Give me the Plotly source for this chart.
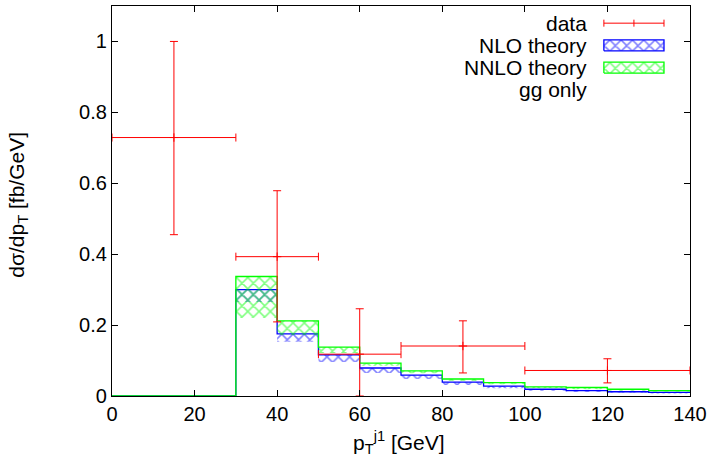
import plotly.graph_objects as go

# ---------------- data ----------------
edges = [0, 30, 40, 50, 60, 70, 80, 90, 100, 110, 120, 130, 140]
nlo_lo = [0, 0.265, 0.153, 0.096, 0.065, 0.048, 0.031, 0.022, 0.015, 0.011, 0.009, 0.007]
nlo_hi = [0, 0.300, 0.175, 0.116, 0.079, 0.059, 0.039, 0.028, 0.019, 0.015, 0.012, 0.010]
nnlo_lo = [0, 0.220, 0.172, 0.121, 0.085, 0.064, 0.042, 0.033, 0.022, 0.019, 0.015, 0.012]
nnlo_hi = [0, 0.337, 0.212, 0.138, 0.093, 0.071, 0.048, 0.038, 0.026, 0.024, 0.019, 0.015]

data_x = [15, 40, 60, 85, 120]
data_xlo = [0, 30, 50, 70, 100]
data_xhi = [30, 50, 70, 100, 140]
data_y = [0.729, 0.393, 0.118, 0.141, 0.072]
data_yhi = [1.0, 0.579, 0.246, 0.212, 0.105]
data_ylo = [0.455, 0.209, 0.0, 0.065, 0.037]

x_ticks = [0, 20, 40, 60, 80, 100, 120, 140]
y_ticks = [0, 0.2, 0.4, 0.6, 0.8, 1]
y_tick_labels = ["0", "0.2", "0.4", "0.6", "0.8", "1"]

legend_labels = ["data", "NLO theory", "NNLO theory", "gg only"]
x_title = "p<sub>T</sub><sup>j1</sup> [GeV]"
y_title = "dσ/dp<sub>T</sub> [fb/GeV]"

RED = "rgb(255,0,0)"
BLUE = "rgb(0,0,255)"
GREEN = "rgb(0,255,0)"
FONT = "Liberation Sans, Arial, sans-serif"
PAT = dict(shape="x", bgcolor="rgba(0,0,0,0)", size=8, solidity=0.35)

fig = go.Figure()


def band(lo, hi, color):
    ylo = lo + [lo[-1]]
    yhi = hi + [hi[-1]]
    fig.add_trace(go.Scatter(x=edges, y=ylo, mode="lines", line=dict(color=color, width=0, shape="hv"),
                             showlegend=False, hoverinfo="skip"))
    fig.add_trace(go.Scatter(x=edges, y=yhi, mode="lines", line=dict(color=color, width=1.3, shape="hv"),
                             fill="tonexty", fillcolor="rgba(0,0,0,0)",
                             fillpattern=dict(PAT, fgcolor=color),
                             showlegend=False, hoverinfo="skip"))


band(nlo_lo, nlo_hi, BLUE)
band(nnlo_lo, nnlo_hi, GREEN)

fig.add_trace(go.Scatter(
    x=data_x, y=data_y, mode="markers",
    marker=dict(symbol="cross-thin", size=6, line=dict(color=RED, width=1), color=RED),
    error_x=dict(type="data", symmetric=False,
                 array=[h - c for h, c in zip(data_xhi, data_x)],
                 arrayminus=[c - l for l, c in zip(data_xlo, data_x)],
                 color=RED, thickness=1, width=4),
    error_y=dict(type="data", symmetric=False,
                 array=[h - c for h, c in zip(data_yhi, data_y)],
                 arrayminus=[c - l for l, c in zip(data_ylo, data_y)],
                 color=RED, thickness=1, width=4),
    showlegend=False, hoverinfo="skip"))

# ---------------- custom gnuplot-like key (overlay axes in 0..1 units) ----------------
kx0, kx1, kxc = 0.851, 0.955, 0.903
key_y = [0.956, 0.899, 0.842, 0.785]
rect_h = 0.014
fig.add_trace(go.Scatter(x=[kx0, kx1], y=[key_y[0], key_y[0]], mode="lines",
                         line=dict(color=RED, width=1), xaxis="x2", yaxis="y2",
                         showlegend=False, hoverinfo="skip"))
for xx in (kx0, kxc, kx1):
    fig.add_trace(go.Scatter(x=[xx, xx], y=[key_y[0] - 0.009, key_y[0] + 0.009], mode="lines",
                             line=dict(color=RED, width=1), xaxis="x2", yaxis="y2",
                             showlegend=False, hoverinfo="skip"))
for yc, col in ((key_y[1], BLUE), (key_y[2], GREEN)):
    fig.add_trace(go.Scatter(x=[kx0, kx1, kx1, kx0, kx0],
                             y=[yc - rect_h, yc - rect_h, yc + rect_h, yc + rect_h, yc - rect_h],
                             mode="lines", line=dict(color=col, width=1.3), fill="toself",
                             fillcolor="rgba(0,0,0,0)",
                             fillpattern=dict(PAT, fgcolor=col),
                             xaxis="x2", yaxis="y2", showlegend=False, hoverinfo="skip"))

annotations = []
for lab, yy in zip(legend_labels, key_y):
    annotations.append(dict(text=lab, x=0.826, y=yy, xref="x2", yref="y2", xanchor="right",
                            yanchor="middle", showarrow=False,
                            font=dict(family=FONT, size=21, color="black")))
annotations.append(dict(text=x_title, x=0.497, y=-0.118, xref="paper", yref="paper",
                        xanchor="center", yanchor="middle", showarrow=False,
                        font=dict(family=FONT, size=21, color="black")))
annotations.append(dict(text=y_title, x=-0.163, y=0.49, xref="paper", yref="paper", textangle=-90,
                        xanchor="center", yanchor="middle", showarrow=False,
                        font=dict(family=FONT, size=21, color="black")))

fig.update_layout(
    width=715, height=465,
    margin=dict(l=112, r=25, t=6, b=69),
    paper_bgcolor="white", plot_bgcolor="white",
    font=dict(family=FONT, size=20, color="black"),
    xaxis=dict(range=[0, 140], tickvals=x_ticks, ticks="inside", ticklen=6, tickcolor="black",
               showline=True, linecolor="black", linewidth=1.2, mirror="ticks", showgrid=False,
               zeroline=False, automargin=False, tickfont=dict(size=20)),
    yaxis=dict(range=[0, 1.1], tickvals=y_ticks, ticktext=y_tick_labels, ticks="inside", ticklen=6,
               tickcolor="black", showline=True, linecolor="black", linewidth=1.2, mirror="ticks",
               showgrid=False, zeroline=False, automargin=False, tickfont=dict(size=20)),
    xaxis2=dict(range=[0, 1], overlaying="x", visible=False, anchor="y2"),
    yaxis2=dict(range=[0, 1], overlaying="y", visible=False, anchor="x2"),
    annotations=annotations,
)

fig.write_html("out.html", config={"displayModeBar": False},
               post_script="document.body.style.margin='0';")
